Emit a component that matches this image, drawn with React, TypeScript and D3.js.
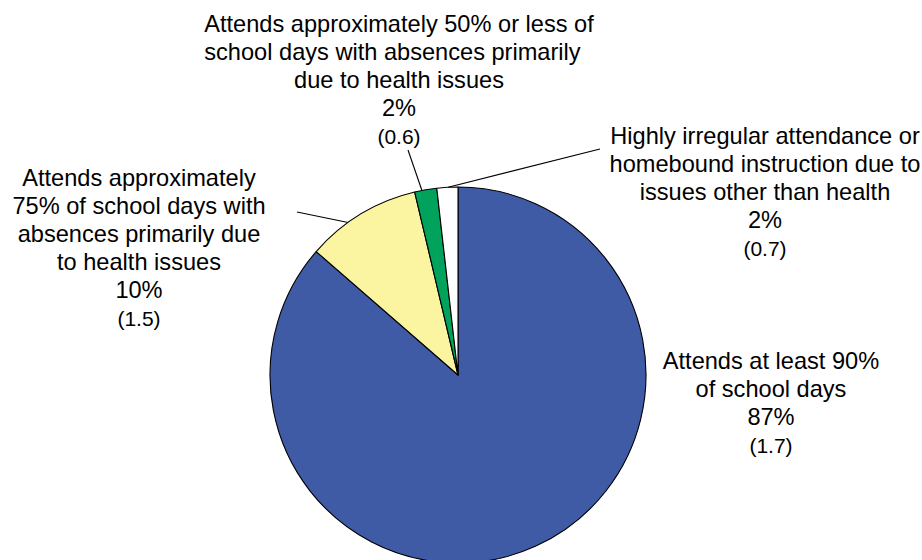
import React from "react";
import * as d3 from "d3";

const categoryLines: string[][] = [
  ["Attends at least 90%", "of school days"],
  ["Attends approximately", "75% of school days with", "absences primarily due", "to health issues"],
  ["Attends approximately 50% or less of", "school days with absences primarily\u00a0\u00a0", "due to health issues"],
  ["Highly irregular attendance or", "homebound instruction due to", "issues other than health"],
];
const values = [86.4, 9.9, 1.9, 1.8];
const percentLabels = ["87%", "10%", "2%", "2%"];
const seLabels = ["(1.7)", "(1.5)", "(0.6)", "(0.7)"];
const colors = ["#3f5ba6", "#fbf4a0", "#00a25c", "#ffffff"];

const W = 922;
const H = 560;
const cx = 458;
const cy = 375;
const R = 188;
const lineH = 28;
const fontMain = 23.6;
const fontSE = 21;

const labelLayout = [
  { x: 771, y: 369, leader: null as null | { x: number; y: number; t: number } },
  { x: 139, y: 186, leader: { x: 297, y: 212, t: 0.37 } },
  { x: 399, y: 32, leader: { x: 408, y: 150, t: 0.33 } },
  { x: 765, y: 144, leader: { x: 600, y: 149, t: 0.54 } },
];

export default function App() {
  const pie = d3.pie<number>().sort(null).value((d) => d);
  const arcs = pie(values);
  const arc = d3.arc<d3.PieArcDatum<number>>().innerRadius(0).outerRadius(R);

  return (
    <svg
      width={W}
      height={H}
      style={{ position: "absolute", left: 0, top: 0, background: "#fff" }}
      fontFamily="'Liberation Sans', Arial, sans-serif"
    >
      <g transform={`translate(${cx},${cy})`}>
        {arcs.map((a, i) => (
          <path key={i} d={arc(a) || ""} fill={colors[i]} stroke="#000" strokeWidth={1.1} strokeLinejoin="round" />
        ))}
      </g>
      {arcs.map((a, i) => {
        const L = labelLayout[i];
        if (!L.leader) return null;
        const ang = a.startAngle + (a.endAngle - a.startAngle) * L.leader.t;
        const ex = cx + R * Math.sin(ang);
        const ey = cy - R * Math.cos(ang);
        return <line key={"l" + i} x1={L.leader.x} y1={L.leader.y} x2={ex} y2={ey} stroke="#000" strokeWidth={1.1} />;
      })}
      {categoryLines.map((lines, i) => {
        const L = labelLayout[i];
        const n = lines.length;
        return (
          <g key={"t" + i} textAnchor="middle" fill="#000">
            {lines.map((s, j) => (
              <text key={j} x={L.x} y={L.y + j * lineH} fontSize={fontMain} style={{ whiteSpace: "pre" }}>
                {s}
              </text>
            ))}
            <text x={L.x} y={L.y + n * lineH} fontSize={fontMain}>
              {percentLabels[i]}
            </text>
            <text x={L.x} y={L.y + (n + 1) * lineH} fontSize={fontSE}>
              {seLabels[i]}
            </text>
          </g>
        );
      })}
    </svg>
  );
}
